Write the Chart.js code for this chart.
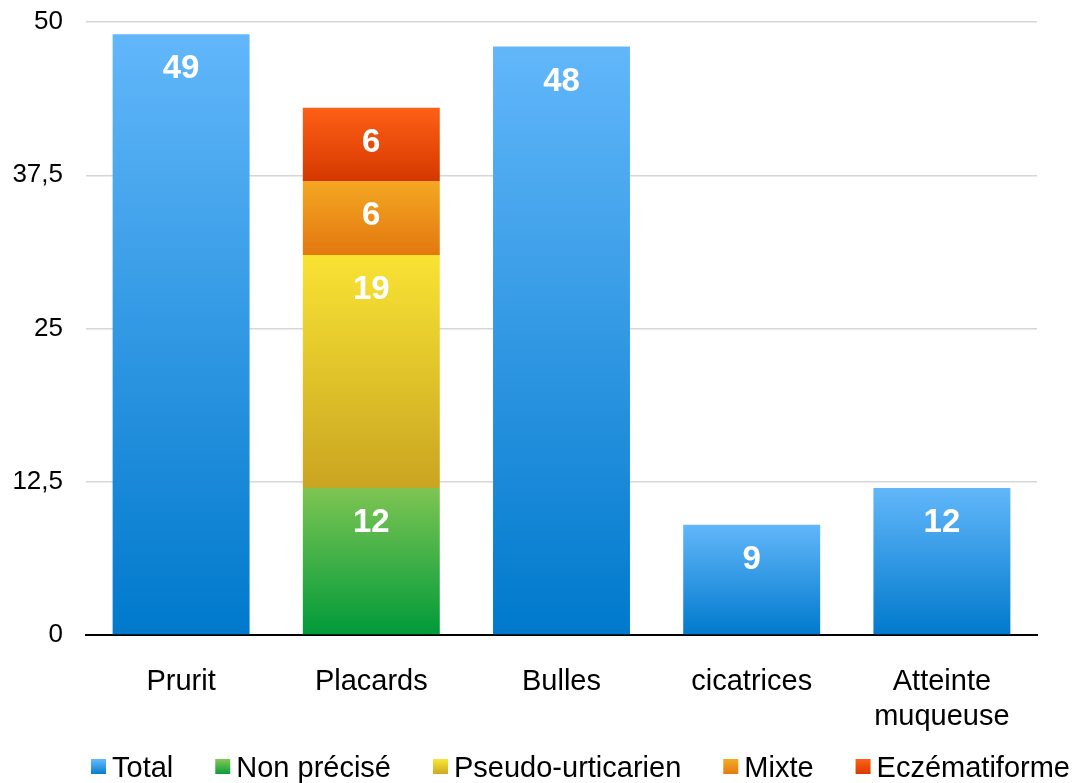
<!DOCTYPE html>
<html>
<head>
<meta charset="utf-8">
<script src="https://cdn.jsdelivr.net/npm/chart.js@4/dist/chart.umd.min.js"></script>
<style>
  html, body { margin: 0; padding: 0; background: #fff; }
  #wrap { width: 1081px; height: 783px; }
</style>
</head>
<body>
<div id="wrap"><canvas id="chart"></canvas></div>
<script>
const categories = ['Prurit', 'Placards', 'Bulles', 'cicatrices', ['Atteinte', 'muqueuse']];
const total = [49, null, 48, 9, 12];
const nonPrecise = [null, 12, null, null, null];
const pseudoUrticarien = [null, 19, null, null, null];
const mixte = [null, 6, null, null, null];
const eczematiforme = [null, 6, null, null, null];
const yTicks = [0, 12.5, 25, 37.5, 50];

const FONT = '"Liberation Sans", Arial, sans-serif';

// top / bottom / flat colour of each series
const shades = [
  ['#62b7fa', '#0079cc', '#2d95e4'],
  ['#7ec553', '#009a3a', '#3fae45'],
  ['#f9e334', '#c9a521', '#e2c42a'],
  ['#f4a723', '#e3780f', '#ec8f19'],
  ['#fe6015', '#d43800', '#ea4c0a']
];

const series = [
  ['Total', total],
  ['Non précisé', nonPrecise],
  ['Pseudo-urticarien', pseudoUrticarien],
  ['Mixte', mixte],
  ['Eczématiforme', eczematiforme]
];

function segmentFill(c) {
  const chart = c.chart;
  const ds = c.datasetIndex;
  const y = chart.scales && chart.scales.y;
  if (!chart.chartArea || !y || c.type !== 'data') return shades[ds][2];
  const i = c.dataIndex;
  let base = 0;
  for (let k = 0; k < ds; k++) base += series[k][1][i] || 0;
  const v = series[ds][1][i] || 0;
  const top = y.getPixelForValue(base + v);
  const bottom = y.getPixelForValue(base);
  if (!isFinite(top) || !isFinite(bottom) || top === bottom) return shades[ds][2];
  const g = chart.ctx.createLinearGradient(0, top, 0, bottom);
  g.addColorStop(0, shades[ds][0]);
  g.addColorStop(1, shades[ds][1]);
  return g;
}

// white value printed near the top of every segment
const valueLabels = {
  id: 'valueLabels',
  afterDatasetsDraw(chart) {
    const ctx = chart.ctx;
    ctx.save();
    ctx.fillStyle = '#fff';
    ctx.font = 'bold 33px ' + FONT;
    ctx.textAlign = 'center';
    ctx.textBaseline = 'middle';
    chart.data.datasets.forEach((d, ds) => {
      chart.getDatasetMeta(ds).data.forEach((bar, i) => {
        const v = d.data[i];
        if (v == null) return;
        ctx.fillText(String(v), bar.x, bar.y + 35);
      });
    });
    ctx.restore();
  }
};

// legend row along the bottom edge, small gradient squares
const bottomLegend = {
  id: 'bottomLegend',
  afterDraw(chart) {
    const ctx = chart.ctx;
    const yMid = 768;
    ctx.save();
    ctx.font = '29px ' + FONT;
    ctx.textBaseline = 'middle';
    ctx.textAlign = 'left';
    let x = 91;
    series.forEach(([label], k) => {
      const g = ctx.createLinearGradient(0, yMid - 8, 0, yMid + 7);
      g.addColorStop(0, shades[k][0]);
      g.addColorStop(1, shades[k][1]);
      ctx.fillStyle = g;
      ctx.fillRect(x, yMid - 9, 15, 15);
      ctx.fillStyle = '#000';
      ctx.fillText(label, x + 21, yMid + 1);
      x += 21 + ctx.measureText(label).width + 42;
    });
    ctx.restore();
  }
};

new Chart(document.getElementById('chart'), {
  type: 'bar',
  data: {
    labels: categories,
    datasets: series.map(([label, values]) => ({
      label: label,
      data: values,
      backgroundColor: segmentFill,
      borderWidth: 0,
      categoryPercentage: 1,
      barPercentage: 0.72
    }))
  },
  options: {
    responsive: true,
    maintainAspectRatio: false,
    animation: false,
    layout: { padding: { top: 22, right: 44, left: 12, bottom: 48 } },
    plugins: {
      legend: { display: false },
      tooltip: { enabled: false }
    },
    scales: {
      x: {
        stacked: true,
        afterFit(axis) { axis.height = 100; },
        grid: { display: false, drawTicks: false },
        border: { color: '#000', width: 2 },
        ticks: {
          color: '#000',
          padding: 30,
          font: { size: 29, family: FONT, lineHeight: 1.2 }
        }
      },
      y: {
        stacked: true,
        min: 0,
        max: 50,
        afterBuildTicks(axis) { axis.ticks = yTicks.map(v => ({ value: v })); },
        afterFit(axis) {
          axis.width = 74;
          axis.paddingTop = 0;
          axis.paddingBottom = 0;
        },
        grid: { color: '#d6d6d6', lineWidth: 1.5, drawTicks: false },
        border: { display: false },
        ticks: {
          color: '#000',
          padding: 23,
          font: { size: 26, family: FONT },
          callback: v => String(v).replace('.', ',')
        }
      }
    }
  },
  plugins: [valueLabels, bottomLegend]
});
</script>
</body>
</html>
